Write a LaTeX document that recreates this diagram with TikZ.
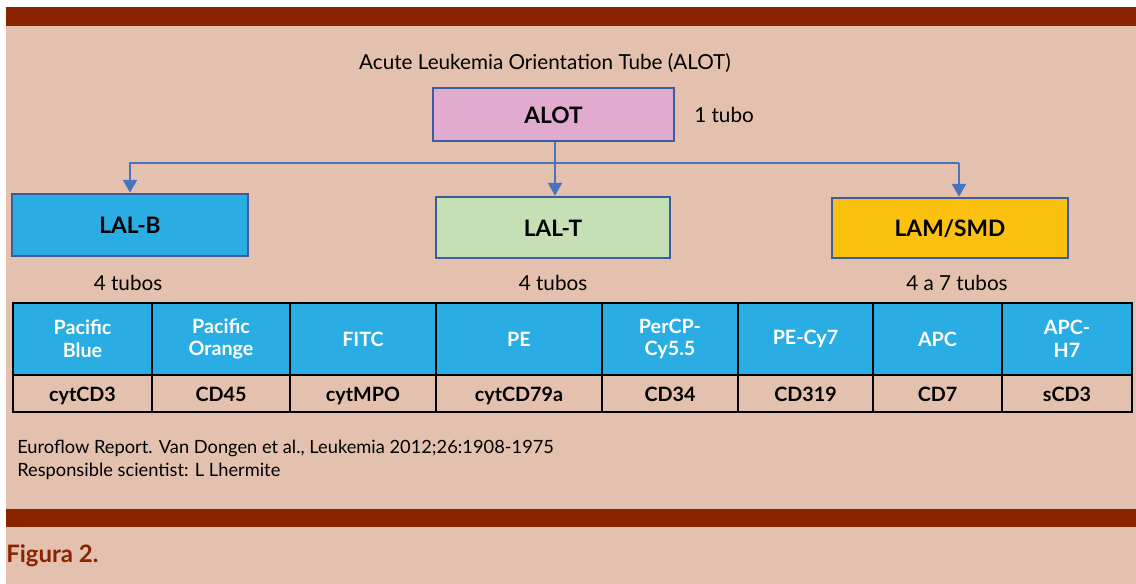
\documentclass[tikz,border=0pt]{standalone}
\usepackage{fontspec}
\setmainfont{Lato}
\usetikzlibrary{arrows.meta}
\definecolor{panel}{HTML}{E3C1AE}
\definecolor{rust}{HTML}{8A2300}
\definecolor{edge}{HTML}{3C5C9E}
\definecolor{link}{HTML}{4A73BE}
\definecolor{cyanfill}{HTML}{29ADE3}
\definecolor{greenfill}{HTML}{C5E0B5}
\definecolor{goldfill}{HTML}{FCC00E}
\definecolor{pinkfill}{HTML}{E1ABD0}
\tikzset{
  px/.style={x=0.75pt,y=-0.75pt},
  catbox/.style={draw=edge,line width=2pt,inner sep=0pt,text height=1.35em,text depth=0pt,
    font=\fontsize{17pt}{19pt}\selectfont\bfseries},
  plain/.style={inner sep=0pt,font=\fontsize{15.5pt}{18pt}\selectfont},
  conn/.style={draw=link,line width=1.1pt},
  arr/.style={conn,-{Triangle[width=10.5pt,length=9.5pt]}},
  hcell/.style={draw=black,line width=1.7pt,fill=cyanfill,text=white,inner sep=0pt,
    align=center,font=\fontsize{14.8pt}{17pt}\selectfont\bfseries},
  dcell/.style={draw=black,line width=1.7pt,inner sep=0pt,text height=1.4em,text depth=0.2em,
    align=center,font=\fontsize{14.8pt}{17pt}\selectfont\bfseries},
  note/.style={inner sep=0pt,anchor=base west,font=\fontsize{13.7pt}{16pt}\selectfont},
}
\begin{document}
\begin{tikzpicture}[px]
\useasboundingbox (0,0) rectangle (1136,584);
% page frame
\fill[white] (0,0) rectangle (1136,584);
\fill[panel] (5.5,7) rectangle (1136,584);
\fill[rust] (5.5,7) rectangle (1136,26);
\fill[rust] (5.5,509) rectangle (1136,527);

% heading and top box
\node[plain] (title) at (545,63) {Acute Leukemia Orientation Tube (ALOT)};
\node[catbox,fill=pinkfill,minimum width=180.75pt,minimum height=39.75pt] (alot) at (553.5,114.5) {ALOT};
\node[plain,anchor=west] (one) at (694,115) {1 tubo};

% three lineages
\node[catbox,fill=cyanfill,minimum width=177pt,minimum height=46.5pt] (lalb) at (130,225) {LAL-B};
\node[catbox,fill=greenfill,minimum width=175.5pt,minimum height=45.75pt] (lalt) at (553,227.5) {LAL-T};
\node[catbox,fill=goldfill,minimum width=177pt,minimum height=45pt] (lam) at (950,228) {LAM/SMD};

\node[plain] (nb) at (128,283) {4 tubos};
\node[plain] (nt) at (553,283) {4 tubos};
\node[plain] (nm) at (957,283) {4 a 7 tubos};

% branching connectors
\coordinate (hub) at (555,163);
\coordinate (lamdrop) at (959,163);
\draw[conn] (alot.south -| hub) -- (hub);
\draw[conn] (hub) -- (lamdrop);
\draw[arr] (hub) -| (lalb.north);
\draw[arr] (hub) -- (hub |- lalt.north);
\draw[arr] (lamdrop) -- (lamdrop |- lam.north);

% fluorochrome / marker table
\foreach \n/\a/\b/\h/\m in {1/13/152/{Pacific\\Blue}/cytCD3, 2/152/290/{Pacific\\Orange}/CD45,
  3/290/436/FITC/cytMPO, 4/436/602/PE/cytCD79a, 5/602/738/{PerCP-\\Cy5.5}/CD34,
  6/738/873/PE-Cy7/CD319, 7/873/1002/APC/CD7, 8/1002/1132/{APC-\\H7}/sCD3}{
  \node[hcell,minimum width={(\b-\a)*0.75pt},minimum height=54pt] (h\n) at ({(\a+\b)/2},339) {\h};
  \node[dcell,minimum width={(\b-\a)*0.75pt},minimum height=27.75pt] (d\n) at ({(\a+\b)/2},393.5) {\m};
}

% references
\node[note] (ref) at (17,454) {Euroflow Report. Van Dongen et al., Leukemia 2012;26:1908-1975};
\node[note] (sci) at (17,477) {Responsible scientist: L Lhermite};
\node[inner sep=0pt,anchor=base west,text=rust,font=\fontsize{18pt}{20pt}\selectfont\bfseries] (fig) at (6,562) {Figura 2.};
\end{tikzpicture}
\end{document}
